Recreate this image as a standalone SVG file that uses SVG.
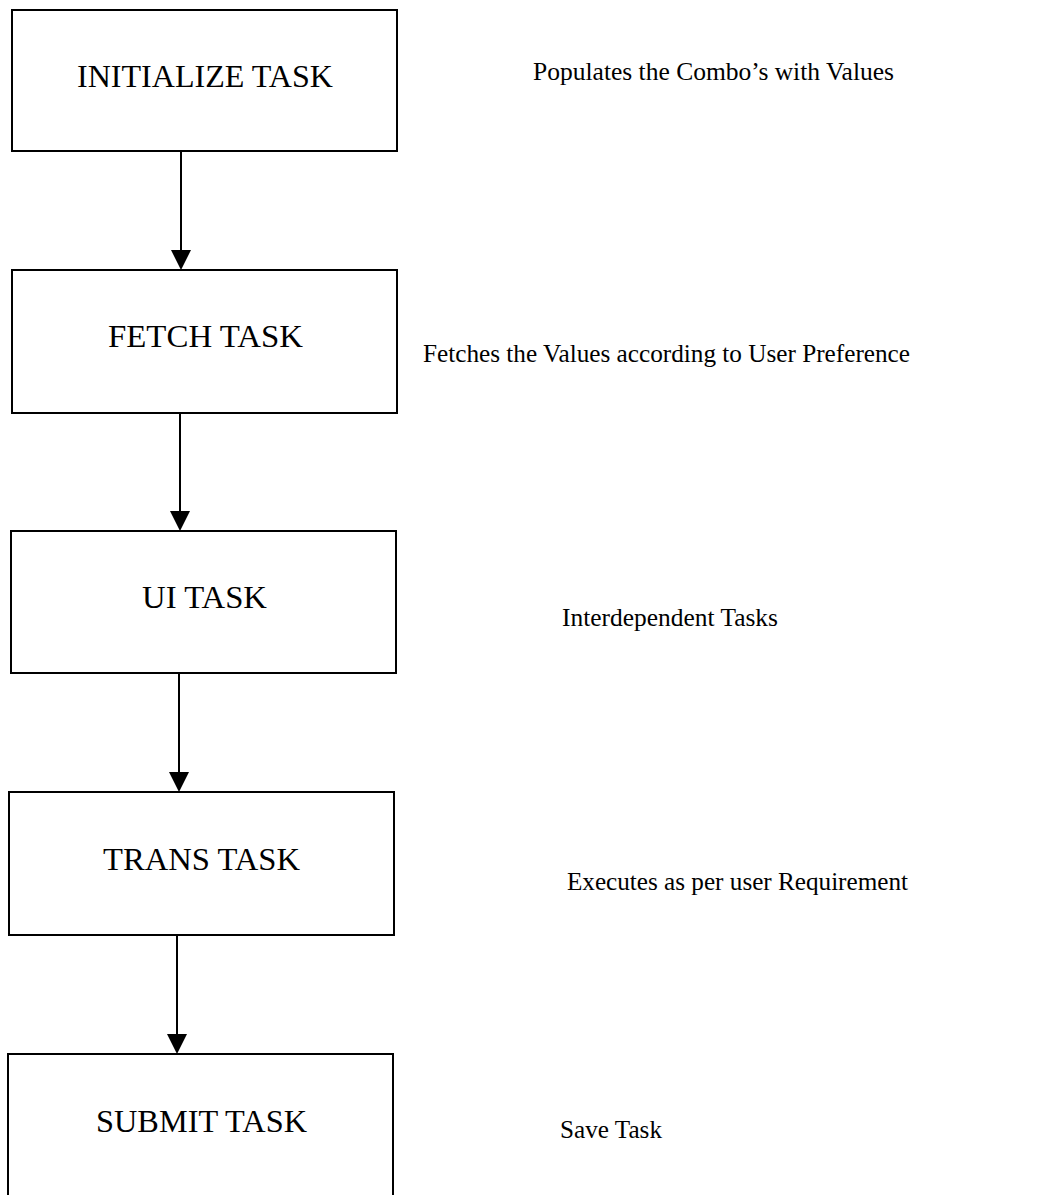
<svg xmlns="http://www.w3.org/2000/svg" width="1063" height="1195" viewBox="0 0 1063 1195">
<style>
.box{fill:#fff;stroke:#000;stroke-width:2}
.lbl{font-family:"Liberation Serif","Times New Roman",serif;font-size:31px;fill:#000}
.note{font-family:"Liberation Serif","Times New Roman",serif;font-size:25.5px;fill:#000}
.conn line{stroke:#000;stroke-width:2}
.conn polygon{fill:#000}
</style>
<rect width="1063" height="1195" fill="#fff"/>
<g class="conn" id="connectors">
<line x1="181" y1="151" x2="181" y2="252"/><polygon points="171,250 191,250 181,270"/>
<line x1="180" y1="413" x2="180" y2="513"/><polygon points="170,511 190,511 180,531"/>
<line x1="179" y1="673" x2="179" y2="774"/><polygon points="169,772 189,772 179,792"/>
<line x1="177" y1="935" x2="177" y2="1036"/><polygon points="167,1034 187,1034 177,1054"/>
</g>
<g id="n1"><rect class="box" x="12" y="10" width="385" height="141"/><text class="lbl" x="77" y="87" textLength="256" lengthAdjust="spacingAndGlyphs">INITIALIZE TASK</text></g>
<g id="n2"><rect class="box" x="12" y="270" width="385" height="143"/><text class="lbl" x="108" y="347" textLength="195" lengthAdjust="spacingAndGlyphs">FETCH TASK</text></g>
<g id="n3"><rect class="box" x="11" y="531" width="385" height="142"/><text class="lbl" x="142" y="608" textLength="125" lengthAdjust="spacingAndGlyphs">UI TASK</text></g>
<g id="n4"><rect class="box" x="9" y="792" width="385" height="143"/><text class="lbl" x="103" y="870" textLength="197" lengthAdjust="spacingAndGlyphs">TRANS TASK</text></g>
<g id="n5"><rect class="box" x="8" y="1054" width="385" height="160"/><text class="lbl" x="96" y="1132" textLength="211" lengthAdjust="spacingAndGlyphs">SUBMIT TASK</text></g>
<g id="notes">
<text class="note" x="533" y="80" textLength="361" lengthAdjust="spacingAndGlyphs">Populates the Combo’s with Values</text>
<text class="note" x="423" y="362" textLength="487" lengthAdjust="spacingAndGlyphs">Fetches the Values according to User Preference</text>
<text class="note" x="562" y="626" textLength="216" lengthAdjust="spacingAndGlyphs">Interdependent Tasks</text>
<text class="note" x="567" y="890" textLength="341" lengthAdjust="spacingAndGlyphs">Executes as per user Requirement</text>
<text class="note" x="560" y="1138" textLength="102" lengthAdjust="spacingAndGlyphs">Save Task</text>
</g>
</svg>
